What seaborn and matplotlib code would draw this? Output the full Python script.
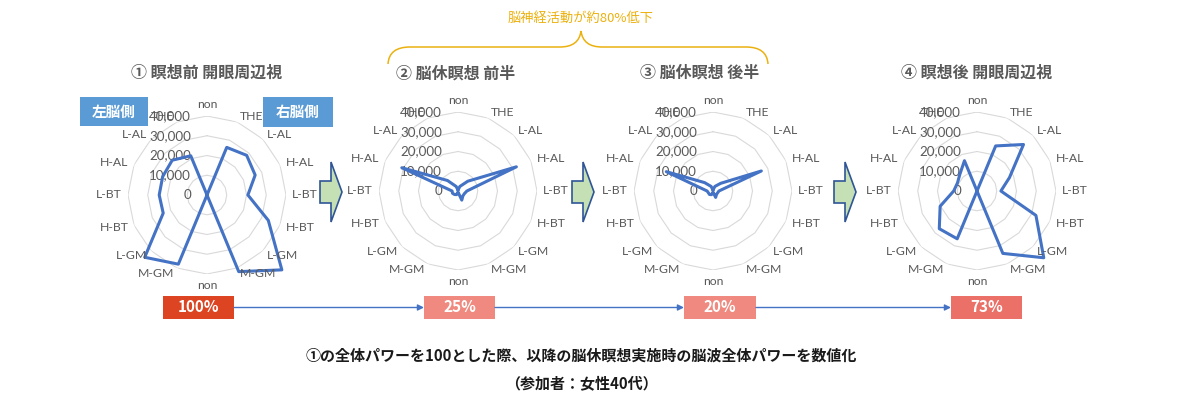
import numpy as np
import pandas as pd
import matplotlib
matplotlib.use("Agg")
import matplotlib.pyplot as plt
import seaborn as sns
from matplotlib.patches import Rectangle, Polygon, PathPatch
from matplotlib.path import Path
import matplotlib.transforms as mtransforms

# ---------------- data ----------------
categories = ["non", "THE", "L-AL", "H-AL", "L-BT", "H-BT", "L-GM", "M-GM",
              "non", "M-GM", "L-GM", "H-BT", "L-BT", "H-AL", "L-AL", "THE"]
chart1_values = [0, 26100, 28400, 26400, 20700, 33600, 53600, 42000,
                 0, 37900, 44600, 24000, 24200, 24300, 24900, 21500]
chart2_values = [500, 2500, 7000, 32000, 4500, 3500, 3500, 5000,
                 500, 2000, 2500, 3000, 3000, 30800, 7500, 2500]
chart3_values = [500, 2500, 5500, 26500, 3000, 2500, 2500, 3500,
                 500, 2000, 2500, 2500, 3000, 25600, 6000, 2500]
chart4_values = [0, 24700, 33300, 17800, 12100, 32300, 47800, 34200,
                 0, 26200, 27000, 20200, 11800, 10700, 12200, 16600]
chart_titles = ["① 瞑想前 開眼周辺視", "② 脳休瞑想 前半", "③ 脳休瞑想 後半", "④ 瞑想後 開眼周辺視"]
radial_ticks = [0, 10000, 20000, 30000, 40000]
radial_tick_labels = ["0", "10,000", "20,000", "30,000", "40,000"]
power_labels = ["100%", "25%", "20%", "73%"]
side_labels = ["左脳側", "右脳側"]
brace_label = "脳神経活動が約80%低下"
footnote_1 = "①の全体パワーを100とした際、以降の脳休瞑想実施時の脳波全体パワーを数値化"
footnote_2 = "（参加者：女性40代）"

# ---------------- style ----------------
sns.set_theme(style="white")
plt.rcParams["font.family"] = ["Noto Sans CJK JP", "DejaVu Sans"]

W, H = 1200, 401
fig = plt.figure(figsize=(W / 100, H / 100), dpi=100)
fig.patch.set_facecolor("white")

GREY = "#595959"
LINE = "#4472C4"
GOLD = "#EBB10F"

# background overlay axes in pixel coords
bg = fig.add_axes([0, 0, 1, 1])
bg.set_xlim(0, W)
bg.set_ylim(H, 0)
bg.axis("off")

centers = [(207, 195), (458, 191), (713, 191), (977, 191)]
title_pos = [(207, 73), (456, 74), (700, 73), (977, 73)]
R = 79
RMAX = 40000
series = [chart1_values, chart2_values, chart3_values, chart4_values]

n = len(categories)
angles = np.arange(n) * 2 * np.pi / n
closed_angles = np.append(angles, 2 * np.pi)

for (cx, cy), vals in zip(centers, series):
    rect = [(cx - R) / W, (H - cy - R) / H, 2 * R / W, 2 * R / H]
    ax = fig.add_axes(rect, projection="polar")
    ax.set_theta_zero_location("N")
    ax.set_theta_direction(-1)
    ax.set_facecolor("none")
    # polygon grid rings
    for r in radial_ticks[1:]:
        ax.plot(closed_angles, [r] * (n + 1), color="#D9D9D9", lw=0.8, zorder=1)
    df = pd.DataFrame({"theta": closed_angles, "power": list(vals) + [vals[0]]})
    sns.lineplot(data=df, x="theta", y="power", sort=False, estimator=None,
                 ax=ax, color=LINE, linewidth=2.2, clip_on=False, zorder=3)
    ax.set_ylim(0, RMAX)
    ax.set_xticks([])
    ax.set_yticks([])
    ax.grid(False)
    ax.spines["polar"].set_visible(False)
    ax.set_xlabel("")
    ax.set_ylabel("")
    # radial value labels
    tr = mtransforms.offset_copy(ax.transData, fig=fig, x=-16, y=0, units="dots")
    for r, lab in zip(radial_ticks, radial_tick_labels):
        ax.text(0, r, lab, transform=tr, ha="right", va="center",
                fontsize=9.6, color=GREY, family=["Lato", "DejaVu Sans"], zorder=2)
    # category labels
    r_lab = RMAX * (R + 6) / R
    for ang, cat in zip(angles, categories):
        s, c = np.sin(ang), np.cos(ang)
        ha = "left" if s > 0.01 else ("right" if s < -0.01 else "center")
        va = "bottom" if c > 0.99 else ("top" if c < -0.99 else "center")
        ax.text(ang, r_lab, cat, ha=ha, va=va, fontsize=8.8, color=GREY,
                family=["Lato", "DejaVu Sans"])

# titles
for (tx, ty), t in zip(title_pos, chart_titles):
    bg.text(tx, ty, t, ha="center", va="center", fontsize=11.5,
            fontweight="bold", color=GREY)

# side boxes
bg.add_patch(Rectangle((80, 97), 68, 29, color="#5B9BD5", lw=0))
bg.text(114, 111.5, side_labels[0], ha="center", va="center", color="white",
        fontsize=10.5, fontweight="bold")
bg.add_patch(Rectangle((263, 97), 70, 30, color="#5B9BD5", lw=0))
bg.text(298, 112, side_labels[1], ha="center", va="center", color="white",
        fontsize=10.5, fontweight="bold")

# green block arrows
for tip in [342, 594, 856]:
    ty = 192
    pts = [(tip - 22, ty - 11), (tip - 11, ty - 11), (tip - 11, ty - 30), (tip, ty),
           (tip - 11, ty + 30), (tip - 11, ty + 11), (tip - 22, ty + 11)]
    bg.add_patch(Polygon(pts, closed=True, facecolor="#C5E0B4",
                         edgecolor="#2F5597", lw=1.2))

# percentage boxes
box_x = [(163, 234), (424, 495), (684, 756), (951, 1022)]
box_colors = ["#DD4422", "#F08A80", "#F08A80", "#EA7068"]
for (x0, x1), col, lab in zip(box_x, box_colors, power_labels):
    bg.add_patch(Rectangle((x0, 296), x1 - x0, 23, color=col, lw=0))
    bg.text((x0 + x1) / 2, 307.5, lab, ha="center", va="center", color="white",
            fontsize=11, fontweight="bold")
for i in range(3):
    bg.annotate("", xy=(box_x[i + 1][0], 307.5), xytext=(box_x[i][1], 307.5),
                arrowprops=dict(arrowstyle="-|>", color=LINE, lw=1,
                                mutation_scale=9, shrinkA=0, shrinkB=0))

# golden brace
verts = [(388, 64), (389, 47), (410, 47), (560, 47), (579, 47), (581, 31),
         (583, 47), (602, 47), (746, 47), (767, 47), (768, 64)]
codes = [Path.MOVETO, Path.CURVE3, Path.CURVE3, Path.LINETO, Path.CURVE3, Path.CURVE3,
         Path.CURVE3, Path.CURVE3, Path.LINETO, Path.CURVE3, Path.CURVE3]
bg.add_patch(PathPatch(Path(verts, codes), facecolor="none", edgecolor=GOLD, lw=1.1))
bg.text(581, 18, brace_label, ha="center", va="center", fontsize=9.5, color=GOLD)

# footnotes
bg.text(581, 356, footnote_1, ha="center", va="center", fontsize=10.8,
        fontweight="bold", color="#1A1A1A")
bg.text(581, 383, footnote_2, ha="center", va="center", fontsize=10.8,
        fontweight="bold", color="#1A1A1A")

fig.savefig("out.png", dpi=100, facecolor="white")
